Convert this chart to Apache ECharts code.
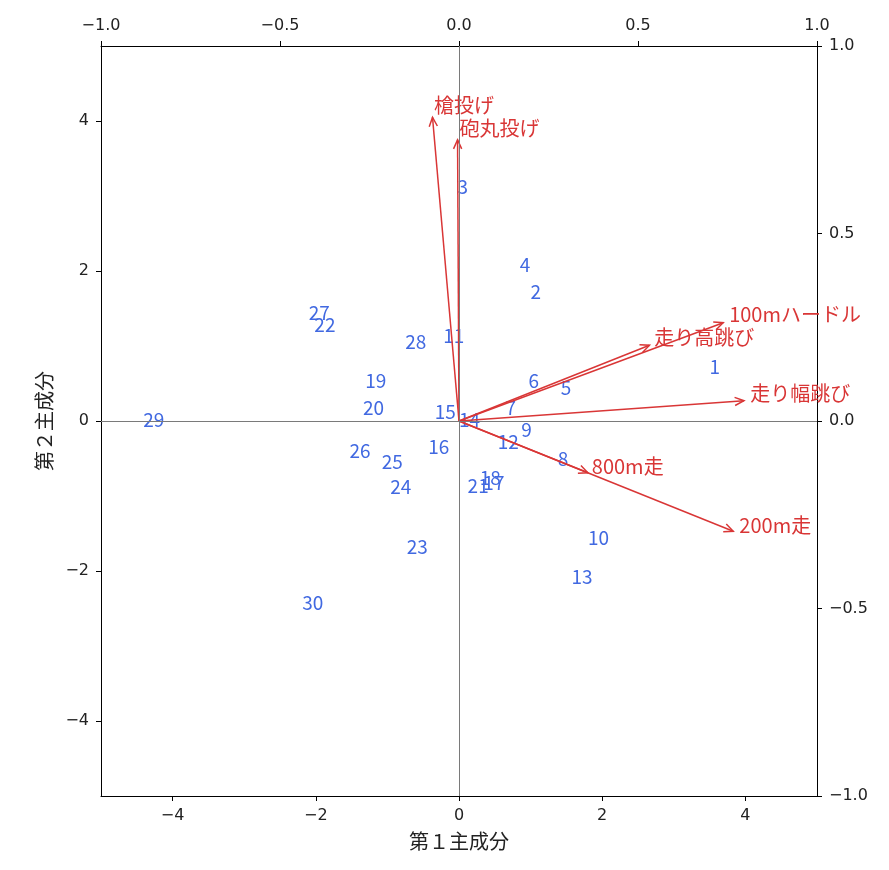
<!DOCTYPE html>
<html>
<head>
<meta charset="utf-8">
<script src="https://cdn.jsdelivr.net/npm/echarts@6/dist/echarts.min.js"></script>
<style>
  html, body { margin: 0; padding: 0; background: #fff; }
  #main { width: 889px; height: 870px; }
</style>
</head>
<body>
<div id="main"></div>
<script>
// 主成分得点（ラベルの左下位置）
const pointLabels = ['1','2','3','4','5','6','7','8','9','10','11','12','13','14','15',
  '16','17','18','19','20','21','22','23','24','25','26','27','28','29','30'];
const pc1 = [3.50, 1.00, -0.02, 0.85, 1.42, 0.97, 0.65, 1.38, 0.87, 1.80, -0.22, 0.54, 1.57, 0.00, -0.34,
  -0.43, 0.34, 0.29, -1.31, -1.34, 0.12, -2.02, -0.73, -0.96, -1.08, -1.53, -2.10, -0.75, -4.41, -2.19];
const pc2 = [0.60, 1.59, 2.99, 1.95, 0.32, 0.41, 0.05, -0.63, -0.24, -1.68, 1.01, -0.41, -2.21, -0.11, -0.01,
  -0.47, -0.95, -0.88, 0.41, 0.05, -0.99, 1.16, -1.81, -1.01, -0.67, -0.52, 1.31, 0.93, -0.11, -2.55];

// 主成分負荷量（矢印の先端、下・左の軸の目盛りで）
const varNames = ['100mハードル', '走り高跳び', '走り幅跳び', '砲丸投げ', '槍投げ', '200m走', '800m走'];
const loadX = [3.69, 2.66, 3.98, -0.02, -0.37, 3.83, 1.80];
const loadY = [1.31, 1.01, 0.27, 3.75, 4.05, -1.47, -0.69];

// 目盛り
const scoreTicks = [-4, -2, 0, 2, 4];
const loadTicks = [-1.0, -0.5, 0.0, 0.5, 1.0];

const blue = '#4169e1';
const red = '#d93636';
const jp = '"Noto Sans CJK JP", sans-serif';
const tickFont = '"DejaVu Sans", sans-serif';
const minus = s => String(s).replace('-', '\u2212');

const myChart = echarts.init(document.getElementById('main'));

const tickLabel = { fontSize: 16, color: '#222', fontFamily: tickFont, margin: 12 };

function axisBase(extra) {
    return Object.assign({
        type: 'value',
        splitLine: { show: false },
        axisLine: { show: true, onZero: false, lineStyle: { color: '#000', width: 1 } },
        axisTick: { show: true, inside: false, length: 5, lineStyle: { color: '#000', width: 1 } }
    }, extra);
}

const option = {
    animation: false,
    backgroundColor: '#fff',
    grid: { left: 101, top: 46, width: 716, height: 750, containLabel: false },
    xAxis: [
        axisBase({
            position: 'bottom', min: -5, max: 5,
            axisTick: { show: true, length: 5, customValues: scoreTicks, lineStyle: { color: '#000' } },
            axisLabel: Object.assign({ customValues: scoreTicks, formatter: v => minus(v) }, tickLabel),
            name: '第１主成分', nameLocation: 'middle', nameGap: 35,
            nameTextStyle: { fontSize: 20, color: '#222', fontFamily: jp }
        }),
        axisBase({
            position: 'top', min: loadTicks[0], max: loadTicks[loadTicks.length - 1], interval: 0.5,
            axisLabel: Object.assign({ formatter: v => minus(v.toFixed(1)) }, tickLabel)
        })
    ],
    yAxis: [
        axisBase({
            position: 'left', min: -5, max: 5,
            axisTick: { show: true, length: 5, customValues: scoreTicks, lineStyle: { color: '#000' } },
            axisLabel: Object.assign({ customValues: scoreTicks, formatter: v => minus(v) }, tickLabel),
            name: '第２主成分', nameLocation: 'middle', nameGap: 47, nameRotate: 90,
            nameTextStyle: { fontSize: 20, color: '#222', fontFamily: jp }
        }),
        axisBase({
            position: 'right', min: loadTicks[0], max: loadTicks[loadTicks.length - 1], interval: 0.5,
            axisLabel: Object.assign({ formatter: v => minus(v.toFixed(1)) }, tickLabel)
        })
    ],
    series: [
        {
            // 原点を通る補助線
            type: 'line',
            xAxisIndex: 0, yAxisIndex: 0,
            data: [],
            silent: true,
            z: 1,
            markLine: {
                silent: true,
                symbol: 'none',
                label: { show: false },
                lineStyle: { color: '#7a7a7a', width: 1, type: 'solid' },
                data: [{ xAxis: 0 }, { yAxis: 0 }]
            }
        },
        {
            // 各選手の番号
            type: 'custom',
            xAxisIndex: 0, yAxisIndex: 0,
            z: 3,
            data: pc1.map((x, i) => [x, pc2[i]]),
            renderItem: function (params, api) {
                const p = api.coord([api.value(0), api.value(1)]);
                return {
                    type: 'text',
                    style: {
                        x: p[0], y: p[1],
                        text: pointLabels[params.dataIndex],
                        fill: blue,
                        font: '19px ' + jp,
                        textAlign: 'left',
                        textVerticalAlign: 'bottom'
                    }
                };
            }
        },
        {
            // 変数の矢印
            type: 'custom',
            xAxisIndex: 0, yAxisIndex: 0,
            z: 4,
            data: loadX.map((x, i) => [x, loadY[i]]),
            renderItem: function (params, api) {
                const o = api.coord([0, 0]);
                const e = api.coord([api.value(0), api.value(1)]);
                const ang = Math.atan2(e[1] - o[1], e[0] - o[0]);
                const h = 10, a = 0.42;
                const p1 = [e[0] - h * Math.cos(ang - a), e[1] - h * Math.sin(ang - a)];
                const p2 = [e[0] - h * Math.cos(ang + a), e[1] - h * Math.sin(ang + a)];
                const t = api.coord([api.value(0) * 1.015, api.value(1) * 1.015]);
                return {
                    type: 'group',
                    children: [
                        { type: 'line', shape: { x1: o[0], y1: o[1], x2: e[0], y2: e[1] },
                          style: { stroke: red, lineWidth: 1.5 } },
                        { type: 'polyline', shape: { points: [p1, e, p2] },
                          style: { stroke: red, lineWidth: 1.5, fill: null } },
                        { type: 'text',
                          style: { x: t[0] + 2, y: t[1] + 3, text: varNames[params.dataIndex], fill: red,
                                   font: '20px ' + jp, textAlign: 'left', textVerticalAlign: 'bottom' } }
                    ]
                };
            }
        }
    ]
};

myChart.setOption(option);
</script>
</body>
</html>
